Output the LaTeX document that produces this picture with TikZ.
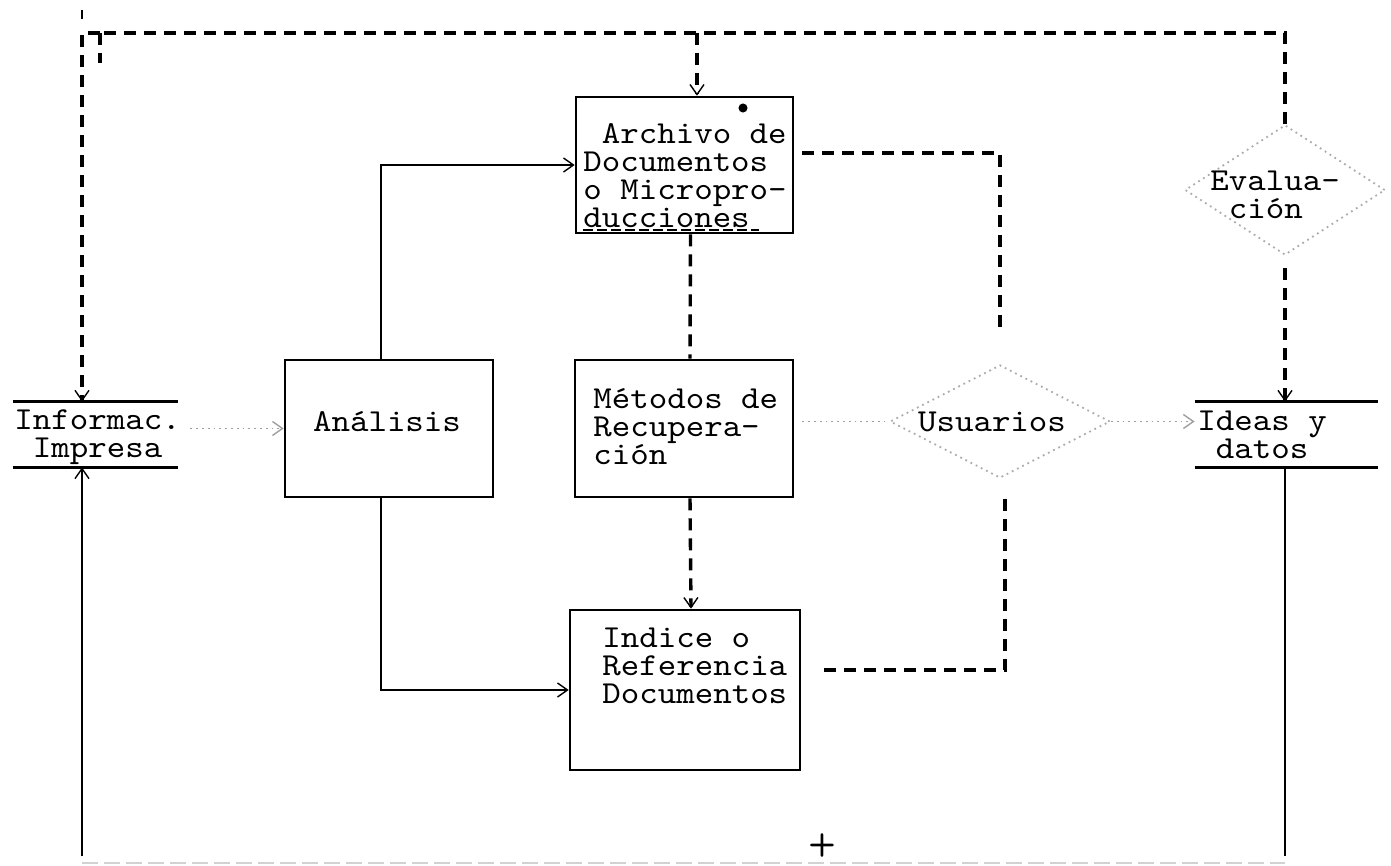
\documentclass[tikz,border=0pt]{standalone}
\usepackage{fontspec}
\newfontfamily\typew{lmmono10-regular}[Extension=.otf, FakeStretch=1.1]
\usetikzlibrary{shapes.geometric,arrows.meta}
\begin{document}
\begin{tikzpicture}[x=0.5pt,y=-0.5pt,
  txt/.style={font=\fontsize{16}{14}\selectfont\typew, align=left, inner sep=0pt},
  boxnode/.style={draw, line width=1.3pt, inner sep=0pt},
  plain/.style={inner sep=0pt},
  dia/.style={draw=gray!65, dotted, line width=0.9pt, shape=diamond, inner sep=0pt},
  dashline/.style={line width=1.7pt, dash pattern=on 6pt off 4pt},
  dotline/.style={draw=gray!75, dotted, line width=0.9pt},
  solidline/.style={line width=1.2pt},
  arr/.style={-{Straight Barb[length=5pt,width=7pt,line width=0.7pt]}},
  faint/.style={draw=gray!35, line width=1pt, dash pattern=on 8pt off 3pt}
]
\useasboundingbox (0,0) rectangle (1391,866);

% boxes
\node[boxnode, minimum width=108.5pt, minimum height=68pt] (arch) at (684.5,165) {};
\node[boxnode, minimum width=109pt, minimum height=68.5pt] (met) at (684,428.5) {};
\node[boxnode, minimum width=115pt, minimum height=80pt] (ind) at (685,690) {};
\node[boxnode, minimum width=104pt, minimum height=68.5pt] (ana) at (389,428.5) {};
\node[plain, minimum width=82.5pt, minimum height=32.5pt] (inf) at (95.5,434.5) {};
\node[plain, minimum width=91.5pt, minimum height=32.5pt] (ide) at (1286.5,434.5) {};
\node[dia, minimum width=110pt, minimum height=56.5pt] (usu) at (1000,421.5) {};
\node[dia, minimum width=100pt, minimum height=65pt] (eva) at (1285,190) {};

% horizontal rules of the two "document" symbols
\draw[solidline] (inf.north west) -- (inf.north east);
\draw[solidline] (inf.south west) -- (inf.south east);
\draw[solidline] (ide.north west) -- (ide.north east);
\draw[solidline] (ide.south west) -- (ide.south east);

% texts
\node[txt, anchor=north west] (archt) at (583,123) {~Archivo de\\Documentos\\o Micropro-\\ducciones};
\draw[line width=1pt, dash pattern=on 5pt off 2pt] ([yshift=-1pt]archt.south west) -- ([yshift=-1pt,xshift=-14pt]archt.south east);
\node[circle, fill, inner sep=1.6pt] (dot) at (743,108) {};
\node[txt, anchor=north west] (mett) at (593,388) {Métodos de\\Recupera-\\ción};
\node[txt, anchor=north west] (indt) at (602,628) {Indice o\\Referencia\\Documentos};
\node[txt] (anat) at (387,422) {Análisis};
\node[txt] (usut) at (992,422) {Usuarios};
\node[txt, anchor=north west] (evat) at (1210,171) {Evalua-\\~ción};
\node[txt, anchor=north west] (inft) at (14,409) {Informac.\\~Impresa};
\node[txt, anchor=north west] (idet) at (1197,411) {Ideas y\\~datos};
\node[font=\fontsize{16}{16}\selectfont\sffamily\bfseries, inner sep=0pt] (plus) at (822,845) {+};

% coordinates of the feedback loop
\coordinate (tl) at (82,33);
\coordinate (tl2) at (100,33);
\coordinate (tm) at (697,33);
\coordinate (bl) at (82,856);
\coordinate (br) at (1285,856);
\coordinate (bb) at (82,863);
\coordinate (bb2) at (1285,863);

% top dashed loop
\draw[dashline] (eva.north) -- (eva.north |- tl) -- (tl2);
\draw[dashline, arr] (tl2) -- (tl) -- (tl |- inf.north);
\draw[dashline] (tl2) -- ++(0,-15pt);
\draw[line width=1pt] (82,10) -- (82,19);
\draw[dashline, arr] (tm) -- (tm |- arch.north);

% Analisis connections
\draw[solidline, arr] ([xshift=-4pt]ana.north) |- (arch.west);
\draw[solidline, arr] ([xshift=-4pt]ana.south) |- (ind.west);
\draw[dotline, arr] ([xshift=6pt]ana.west -| inf.east) -- (ana.west);

% central column
\draw[dashline] ([xshift=3pt]arch.south) -- ([xshift=3pt]met.north);
\draw[dashline, arr] ([xshift=3pt]met.south) -- ([xshift=3pt]ind.north);

% Usuarios
\draw[dotline] ([xshift=4pt]usu.west -| met.east) -- (usu.west);
\draw[dotline, arr] (usu.east) -- (ide.west |- usu.east);
\draw[dashline] ([xshift=4pt,yshift=6pt]arch.east) -| ([yshift=17pt]usu.north);
\draw[dashline] ([xshift=2.5pt,yshift=-10pt]usu.south) |- ([xshift=10pt,yshift=10pt]ind.east);

% Evaluacion to Ideas
\draw[dashline, arr] ([yshift=-6pt]eva.south) -- (eva.south |- ide.north);

% bottom return line
\draw[solidline, arr] (bl) -- (bl |- inf.south);
\draw[solidline] (ide.south -| br) -- (br);
\draw[faint] (bb) -- (bb2);
\end{tikzpicture}
\end{document}
